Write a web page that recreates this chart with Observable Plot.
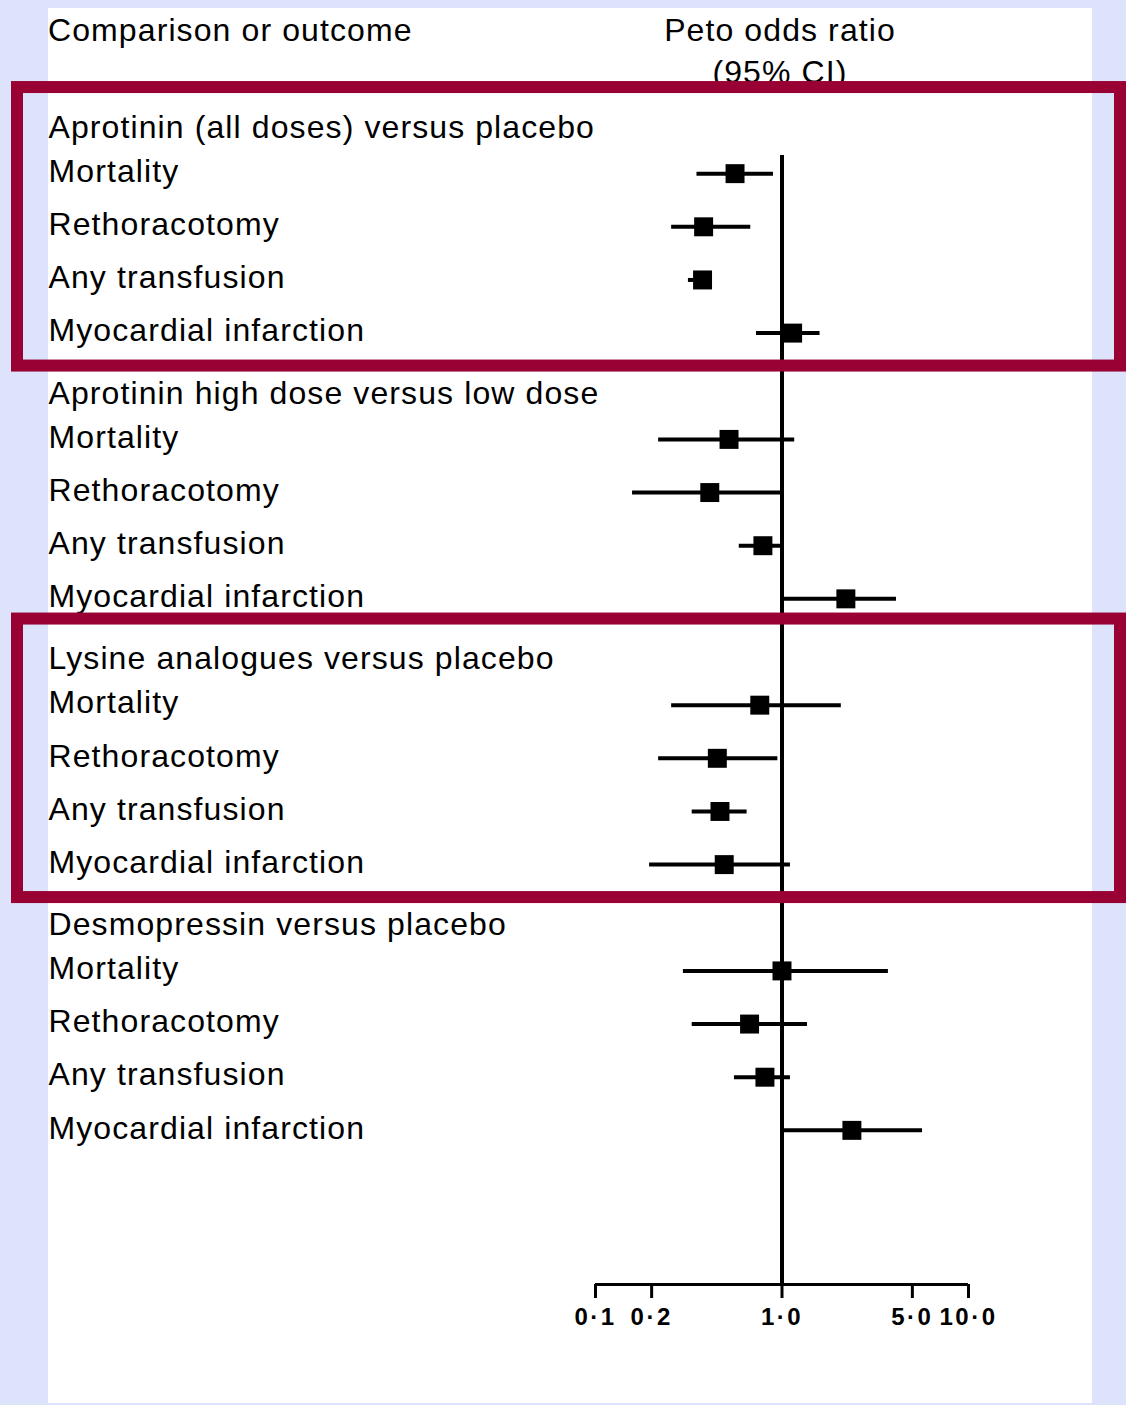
<!DOCTYPE html>
<html>
<head>
<meta charset="utf-8">
<script src="https://cdn.jsdelivr.net/npm/d3@7"></script>
<script src="https://cdn.jsdelivr.net/npm/@observablehq/plot@0.6"></script>
<style>
  html, body { margin: 0; padding: 0; background: #dce3fa; }
  #wrap { position: relative; width: 1126px; height: 1405px; overflow: hidden; }
  #panel { position: absolute; left: 48px; top: 8px; width: 1044px; height: 1395px; background: #fff; }
  .head { position: absolute; font-family: "Liberation Sans", Arial, sans-serif; font-size: 32px; letter-spacing: 1.1px; color: #000; white-space: nowrap; }
  #head-left { left: 48px; top: 14px; line-height: 32px; }
  #head-right { left: 580px; width: 400px; top: 9px; line-height: 42px; text-align: center; }
  #chart { position: absolute; left: 0; top: 0; }
  #chart svg text { letter-spacing: 1.1px; }
  #chart svg g[aria-label="x-axis tick label"] text { letter-spacing: 2.5px; }
</style>
</head>
<body>
<div id="wrap">
  <div id="panel"></div>
  <div class="head" id="head-left">Comparison or outcome</div>
  <div class="head" id="head-right">Peto odds ratio<br>(95% CI)</div>
  <div id="chart"></div>
</div>
<script>
// Comparisons and outcomes, in display order
const groups = [
  "Aprotinin (all doses) versus placebo",
  "Aprotinin high dose versus low dose",
  "Lysine analogues versus placebo",
  "Desmopressin versus placebo"
];
const outcomes = ["Mortality", "Rethoracotomy", "Any transfusion", "Myocardial infarction"];

// Peto odds ratios with 95% confidence limits, four outcomes per comparison
const oddsRatio = [0.56, 0.38, 0.375, 1.14,  0.52, 0.41, 0.79, 2.20,  0.76, 0.45, 0.465, 0.49,  1.00, 0.67, 0.81, 2.37];
const lower     = [0.35, 0.256, 0.315, 0.73, 0.218, 0.158, 0.59, 1.00, 0.256, 0.218, 0.33, 0.195, 0.296, 0.33, 0.556, 1.00];
const upper     = [0.90, 0.68, 0.40, 1.60,  1.17, 1.00, 1.00, 4.11,  2.08, 0.95, 0.65, 1.11,  3.72, 1.37, 1.11, 5.67];

// Axis ticks and their labels
const tickValues = [0.1, 0.2, 1, 5, 10];
const tickLabels = ["0·1", "0·2", "1·0", "5·0", "10·0"];

// Comparisons outlined with a box
const boxedGroups = [0, 2];

// Each comparison takes five rows: a heading and its four outcomes
const rowsPerGroup = 5;
const axisRow = 21.9;
const boxPad = 0.62;

const table = groups.flatMap((g, gi) =>
  outcomes.map((o, oi) => {
    const k = gi * outcomes.length + oi;
    return {group: g, outcome: o, row: gi * rowsPerGroup + oi + 1, or: oddsRatio[k], lo: lower[k], hi: upper[k]};
  })
);
const headings = groups.map((g, gi) => ({name: g, row: gi * rowsPerGroup}));
const boxes = boxedGroups.map(gi => ({top: gi * rowsPerGroup - boxPad, bottom: gi * rowsPerGroup + outcomes.length + boxPad}));

const chart = Plot.plot({
  width: 1126,
  height: 1405,
  marginTop: 155,
  marginBottom: 121,
  marginLeft: 48,
  marginRight: 34,
  style: {background: "transparent", fontFamily: "'Liberation Sans', Arial, sans-serif", overflow: "visible"},
  x: {type: "log", domain: [0.1, 10], range: [595, 968], axis: null},
  y: {domain: [0, axisRow], range: [120, 1284], axis: null},
  marks: [
    // line of no effect
    Plot.ruleX([1], {stroke: "#000", strokeWidth: 4}),
    // confidence intervals
    Plot.ruleY(table, {y: "row", x1: "lo", x2: "hi", stroke: "#000", strokeWidth: 4}),
    // point estimates
    Plot.dot(table, {x: "or", y: "row", symbol: "square", r: 10.7, fill: "#000", stroke: null}),
    // outcome labels
    Plot.text(table, {y: "row", text: "outcome", frameAnchor: "left", textAnchor: "start", fontSize: 32, dy: -2}),
    // comparison headings
    Plot.text(headings, {y: "row", text: "name", frameAnchor: "left", textAnchor: "start", fontSize: 32, dy: 7}),
    // axis baseline and ticks
    Plot.ruleY([axisRow], {x1: 0.1, x2: 10, stroke: "#000", strokeWidth: 3}),
    Plot.axisX({
      anchor: "bottom",
      ticks: tickValues,
      tickFormat: d => tickLabels[tickValues.indexOf(d)],
      tickSize: 14,
      tickPadding: 9,
      strokeWidth: 3,
      fontSize: 24,
      fontWeight: "bold"
    }),
    // outline boxes around highlighted comparisons
    Plot.rect(boxes, {y1: "top", y2: "bottom", fill: "none", stroke: "#990033", strokeWidth: 12, insetLeft: -31, insetRight: -28})
  ]
});

document.getElementById("chart").append(chart);
</script>
</body>
</html>
